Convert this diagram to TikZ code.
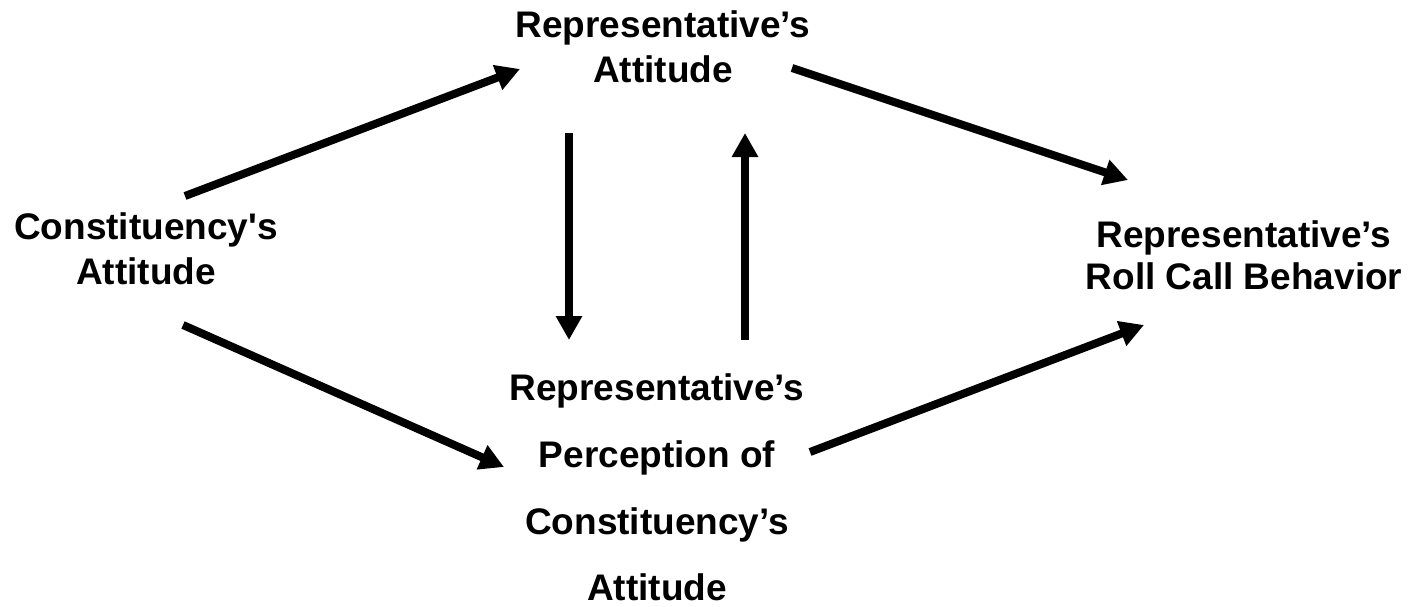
\documentclass[tikz,border=0pt]{standalone}
\usepackage{fontspec}
\setmainfont{Liberation Sans}[Ligatures=TeXOff]
\usetikzlibrary{positioning,arrows.meta}
\tikzset{label node/.style={align=center,inner sep=0pt,font=\fontsize{37}{45}\selectfont\bfseries},
  link/.style={line width=8pt,-{Triangle[length=24pt,width=25pt]}},}

\begin{document}
\begin{tikzpicture}[x=1pt,y=-1pt]
    \useasboundingbox (0,0) rectangle (1412,607);

    \node[label node] (cons) at (146,249) {Constituency's\\Attitude};
    \node[label node] (repatt) at (663,46.5) {Representative’s\\Attitude};
    \node[label node,font=\fontsize{37}{42}\selectfont\bfseries] (roll) at (1244,255.5) {Representative’s\\Roll Call Behavior};
    \node[label node,font=\fontsize{37}{66.7}\selectfont\bfseries] (perc) at (657,487.5) {Representative’s\\Perception of\\Constituency’s\\Attitude};

    % ends of the arrows
    \coordinate (c1) at (185,196);
    \coordinate (r1) at (520,69);
    \coordinate (r2) at (792,68);
    \coordinate (b1) at (1128,180);
    \coordinate (d1) at (569,133);
    \coordinate (d2) at (569,340);
    \coordinate (u1) at (745,340);
    \coordinate (u2) at (745,133);
    \coordinate (c2) at (183,325);
    \coordinate (p1) at (504,467);
    \coordinate (p2) at (810,452);
    \coordinate (b2) at (1144,325);

    \path
    (c1) edge[link] (r1)
    (r2) edge[link] (b1)
    (d1) edge[link] (d2)
    (u1) edge[link] (u2)
    (c2) edge[link] (p1)
    (p2) edge[link] (b2)
    ;
\end{tikzpicture}
\end{document}
